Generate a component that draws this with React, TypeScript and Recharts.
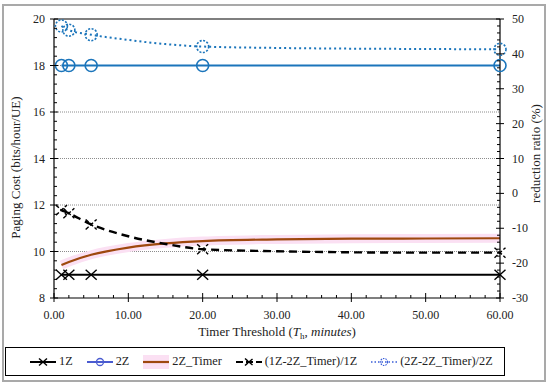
import { ComposedChart, Line, XAxis, YAxis, ReferenceLine } from 'recharts'

// threshold values (minutes) and series
const thresholds = [1, 2, 5, 10, 15, 20, 30, 40, 50, 60]
const markerAt = [1, 2, 5, 20, 60]
const cost1Z = [9, 9, 9, 9, 9, 9, 9, 9, 9, 9]
const cost2Z = [18, 18, 18, 18, 18, 18, 18, 18, 18, 18]
const cost2ZTimer = [9.42, 9.55, 9.86, 10.17, 10.35, 10.45, 10.52, 10.55, 10.56, 10.57]
const ratio1Z = [-4.8, -5.7, -8.9, -12.3, -14.5, -16.0, -16.6, -16.9, -17.0, -17.0]
const ratio2Z = [48.0, 46.8, 45.5, 44.0, 42.8, 42.1, 41.7, 41.5, 41.4, 41.3]

const xMajor = [0, 10, 20, 30, 40, 50, 60]
const leftMajor = [8, 10, 12, 14, 16, 18, 20]
const rightMajor = [-30, -20, -10, 0, 10, 20, 30, 40, 50]
const gridLines = [10, 12, 14, 16, 18]

const steps = (from: number, to: number, step: number) => {
  const out: number[] = []
  for (let v = from; v <= to + 1e-9; v += step) out.push(Math.round(v * 10) / 10)
  return out
}
const xTicks = steps(0, 60, 2)
const leftTicks = steps(8, 20, 0.4)
const rightTicks = steps(-30, 50, 2)

const data = thresholds.map((t, i) => ({
  t,
  z1: cost1Z[i],
  z2: cost2Z[i],
  timer: cost2ZTimer[i],
  r1: ratio1Z[i],
  r2: ratio2Z[i],
}))

const FONT = '"Liberation Serif", "Times New Roman", serif'
const BLUE = '#1b75bb'
const BROWN = '#9e480e'
const PINK = '#fbe0f3'
const TXT = '#222'

const isIn = (v: number, list: number[]) => list.some(m => Math.abs(m - v) < 1e-6)

const XTick = (p: any) => {
  const v = p.payload.value
  const major = isIn(v, xMajor)
  return (
    <g>
      <line x1={p.x} x2={p.x} y1={p.y - (major ? 5 : 3)} y2={p.y + (major ? 4 : 0)} stroke="#000" />
      {major && (
        <text x={p.x} y={p.y + 17} textAnchor="middle" dominantBaseline="central" fontSize={12} fontFamily={FONT} fill={TXT}>
          {v.toFixed(2)}
        </text>
      )}
    </g>
  )
}

const LeftTick = (p: any) => {
  const v = p.payload.value
  const major = isIn(v, leftMajor)
  return (
    <g>
      <line x1={p.x - (major ? 4 : 0)} x2={p.x + (major ? 4 : 3)} y1={p.y} y2={p.y} stroke="#000" />
      {major && (
        <text x={p.x - 9} y={p.y} textAnchor="end" dominantBaseline="central" fontSize={12} fontFamily={FONT} fill={TXT}>
          {v}
        </text>
      )}
    </g>
  )
}

const RightTick = (p: any) => {
  const v = p.payload.value
  const major = isIn(v, rightMajor)
  return (
    <g>
      <line x1={p.x - (major ? 4 : 3)} x2={p.x + (major ? 4 : 0)} y1={p.y} y2={p.y} stroke="#000" />
      {major && (
        <text x={p.x + 12} y={p.y} textAnchor="start" dominantBaseline="central" fontSize={12} fontFamily={FONT} fill={TXT}>
          {v}
        </text>
      )}
    </g>
  )
}

const Cross = ({ cx, cy, dashed, s = 5.5 }: { cx: number; cy: number; dashed?: boolean; s?: number }) => (
  <g stroke="#000" strokeWidth={1.4} strokeDasharray={dashed ? '4 2' : undefined}>
    <line x1={cx - s} y1={cy - s + 0.5} x2={cx + s} y2={cy + s - 0.5} />
    <line x1={cx - s} y1={cy + s - 0.5} x2={cx + s} y2={cy - s + 0.5} />
  </g>
)

const markerDot = (kind: 'x' | 'xd' | 'o' | 'od') => (p: any) => {
  const key = `${kind}-${p.index}`
  if (!isIn(p.payload.t, markerAt)) return <g key={key} />
  if (kind === 'x' || kind === 'xd') return <Cross key={key} cx={p.cx} cy={p.cy} dashed={kind === 'xd'} />
  return (
    <circle
      key={key}
      cx={p.cx}
      cy={p.cy}
      r={6}
      fill="none"
      stroke={BLUE}
      strokeWidth={1.6}
      strokeDasharray={kind === 'od' ? '2 1.5' : undefined}
    />
  )
}

const LegendIcon = ({ kind }: { kind: string }) => (
  <svg width={26} height={14} style={{ display: 'block', background: kind === 'timer' ? PINK : 'transparent' }}>
    {kind === 'z1' && (
      <>
        <line x1={0} x2={26} y1={7} y2={7} stroke="#000" strokeWidth={2} />
        <Cross cx={13} cy={7} s={4} />
      </>
    )}
    {kind === 'z2' && (
      <>
        <line x1={0} x2={26} y1={7} y2={7} stroke="#4a5bd0" strokeWidth={2} />
        <circle cx={13} cy={7} r={3.5} fill="none" stroke="#4a5bd0" strokeWidth={1.3} />
      </>
    )}
    {kind === 'timer' && <line x1={0} x2={26} y1={7} y2={7} stroke={BROWN} strokeWidth={2.2} />}
    {kind === 'r1' && (
      <>
        <line x1={0} x2={26} y1={7} y2={7} stroke="#000" strokeWidth={2} strokeDasharray="7 3" />
        <Cross cx={13} cy={7} s={4} dashed />
      </>
    )}
    {kind === 'r2' && (
      <>
        <line x1={0} x2={26} y1={7} y2={7} stroke="#3a5ed8" strokeWidth={1.6} strokeDasharray="1.5 2" />
        <circle cx={13} cy={7} r={3.5} fill="none" stroke="#3a5ed8" strokeWidth={1.2} strokeDasharray="1.5 1" />
      </>
    )}
  </svg>
)

const legendItems = [
  { kind: 'z1', label: '1Z' },
  { kind: 'z2', label: '2Z' },
  { kind: 'timer', label: '2Z_Timer' },
  { kind: 'r1', label: '(1Z-2Z_Timer)/1Z' },
  { kind: 'r2', label: '(2Z-2Z_Timer)/2Z' },
]

export default function App() {
  return (
    <div style={{ position: 'absolute', left: 0, top: 0, width: 550, height: 388, background: '#fff', fontFamily: FONT }}>
      <div style={{ position: 'absolute', left: 2, top: 4, width: 544, height: 378, border: '2px solid #a9a9a9', boxSizing: 'border-box' }} />
      <ComposedChart width={550} height={388} data={data} margin={{ top: 19, right: 0, bottom: 0, left: 0 }}>
        <XAxis
          dataKey="t"
          type="number"
          domain={[0, 60]}
          ticks={xTicks}
          interval={0}
          height={90}
          tickSize={0}
          tickMargin={0}
          tickLine={false}
          axisLine={{ stroke: '#000', strokeWidth: 1.2 }}
          tick={XTick}
          label={{
            content: (lp: any) => {
              const vb = lp.viewBox
              return (
                <text x={vb.x + vb.width / 2} y={vb.y + 38} textAnchor="middle" fontSize={13} fontFamily={FONT} fill={TXT}>
                  Timer Threshold (<tspan fontStyle="italic">T</tspan>
                  <tspan fontSize={9} dy={3}>h</tspan>
                  <tspan dy={-3}>, </tspan>
                  <tspan fontStyle="italic">minutes</tspan>)
                </text>
              )
            },
          }}
        />
        <YAxis
          yAxisId="left"
          type="number"
          domain={[8, 20]}
          ticks={leftTicks}
          interval={0}
          width={54}
          tickSize={0}
          tickMargin={0}
          tickLine={false}
          axisLine={{ stroke: '#000', strokeWidth: 1.2 }}
          tick={LeftTick}
          label={{
            content: (lp: any) => {
              const vb = lp.viewBox
              const cx = 15
              const cy = vb.y + vb.height / 2 + 9
              return (
                <text x={cx} y={cy} transform={`rotate(-90 ${cx} ${cy})`} textAnchor="middle" dominantBaseline="central" fontSize={13} fontFamily={FONT} fill={TXT}>
                  Paging Cost (bits/hour/UE)
                </text>
              )
            },
          }}
        />
        <YAxis
          yAxisId="right"
          orientation="right"
          type="number"
          domain={[-30, 50]}
          ticks={rightTicks}
          interval={0}
          width={50}
          tickSize={0}
          tickMargin={0}
          tickLine={false}
          axisLine={{ stroke: '#000', strokeWidth: 1.2 }}
          tick={RightTick}
          label={{
            content: (lp: any) => {
              const vb = lp.viewBox
              const cx = vb.x + 35
              const cy = vb.y + vb.height / 2 - 5
              return (
                <text x={cx} y={cy} transform={`rotate(-90 ${cx} ${cy})`} textAnchor="middle" dominantBaseline="central" fontSize={13} fontFamily={FONT} fill={TXT}>
                  reduction ratio (%)
                </text>
              )
            },
          }}
        />
        {gridLines.map(g => (
          <ReferenceLine key={g} yAxisId="left" y={g} stroke="#8c8c8c" strokeDasharray="1 1" />
        ))}
        <ReferenceLine yAxisId="left" y={20} stroke="#000" strokeWidth={1.2} />

        <Line yAxisId="left" dataKey="timer" type="monotone" stroke={PINK} strokeWidth={9} dot={false} isAnimationActive={false} />
        <Line yAxisId="left" dataKey="timer" type="monotone" stroke={BROWN} strokeWidth={2.2} dot={false} isAnimationActive={false} />
        <Line yAxisId="left" dataKey="z1" type="linear" stroke="#000" strokeWidth={2} dot={markerDot('x')} isAnimationActive={false} />
        <Line yAxisId="left" dataKey="z2" type="linear" stroke={BLUE} strokeWidth={2} dot={markerDot('o')} isAnimationActive={false} />
        <Line yAxisId="right" dataKey="r1" type="monotone" stroke="#000" strokeWidth={2.4} strokeDasharray="8 5" dot={markerDot('xd')} isAnimationActive={false} />
        <Line yAxisId="right" dataKey="r2" type="monotone" stroke={BLUE} strokeWidth={2} strokeDasharray="2 3" dot={markerDot('od')} isAnimationActive={false} />
      </ComposedChart>
      <div
        style={{
          position: 'absolute',
          left: 5,
          top: 347,
          width: 500,
          height: 29,
          border: '1px solid #000',
          boxSizing: 'border-box',
          display: 'flex',
          alignItems: 'center',
          paddingLeft: 24,
          gap: 14,
          fontSize: 12.3,
          color: TXT,
          whiteSpace: 'nowrap',
        }}
      >
        {legendItems.map(it => (
          <div key={it.kind} style={{ display: 'flex', alignItems: 'center', gap: 3, flexShrink: 0 }}>
            <LegendIcon kind={it.kind} />
            <span>{it.label}</span>
          </div>
        ))}
      </div>
    </div>
  )
}
